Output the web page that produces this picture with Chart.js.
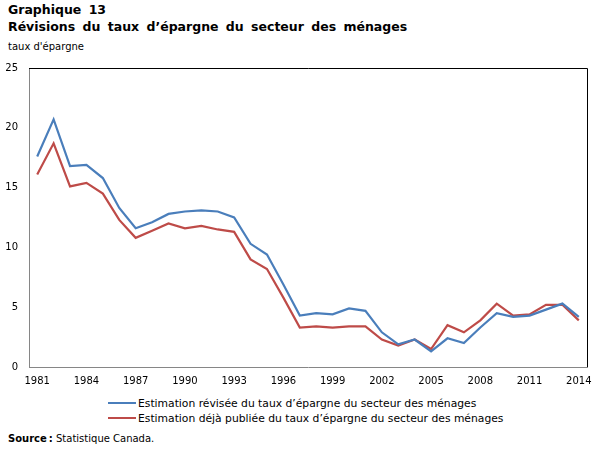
<!DOCTYPE html>
<html>
<head>
<meta charset="utf-8">
<script src="https://cdn.jsdelivr.net/npm/chart.js@4"></script>
<style>
  html, body { margin: 0; padding: 0; background: #fff; width: 605px; height: 454px; overflow: hidden; }
  body { position: relative; font-family: "DejaVu Sans", Verdana, sans-serif; color: #000; }
  .t { position: absolute; left: 8px; white-space: nowrap; }
  #t1 { top: 2px; font-weight: bold; font-size: 12.5px; word-spacing: 3px; }
  #t2 { top: 19px; font-weight: bold; font-size: 12.5px; word-spacing: 3px; }
  #t3 { top: 41px; font-size: 10px; }
  #src { top: 433px; font-size: 10px; }
  #wrap { position: absolute; left: 0; top: 51px; width: 605px; height: 344px; }
  #legend { position: absolute; left: 108px; top: 396px; font-size: 10.75px; }
  .li { height: 15px; line-height: 15px; white-space: nowrap; }
  .sw { display: inline-block; width: 28px; height: 2px; vertical-align: middle; margin-right: 2px; position: relative; top: -1px; }
</style>
</head>
<body>
<div class="t" id="t1">Graphique 13</div>
<div class="t" id="t2">Révisions du taux d’épargne du secteur des ménages</div>
<div class="t" id="t3">taux d'épargne</div>
<div id="wrap"><canvas id="c" width="605" height="344"></canvas></div>
<div id="legend"></div>
<div class="t" id="src"><b>Source&#8201;:</b> Statistique Canada.</div>
<script>
const years = [1981,1982,1983,1984,1985,1986,1987,1988,1989,1990,1991,1992,1993,1994,1995,1996,1997,1998,1999,2000,2001,2002,2003,2004,2005,2006,2007,2008,2009,2010,2011,2012,2013,2014];
const xTickLabels = ['1981','1984','1987','1990','1993','1996','1999','2002','2005','2008','2011','2014'];
const yTicks = [0,5,10,15,20,25];
const seriesNames = [
  'Estimation révisée du taux d’épargne du secteur des ménages',
  'Estimation déjà publiée du taux d’épargne du secteur des ménages'
];
const revised = [17.6,20.7,16.8,16.9,15.8,13.3,11.6,12.1,12.8,13.0,13.1,13.0,12.5,10.3,9.4,6.9,4.3,4.5,4.4,4.9,4.7,2.9,1.9,2.3,1.3,2.4,2.0,3.3,4.5,4.2,4.3,4.8,5.3,4.2];
const published = [16.1,18.7,15.1,15.4,14.5,12.3,10.8,11.4,12.0,11.6,11.8,11.5,11.3,9.0,8.2,5.8,3.3,3.4,3.3,3.4,3.4,2.3,1.8,2.3,1.5,3.5,2.9,3.9,5.3,4.3,4.4,5.2,5.2,3.9];
const colors = ['#4a7ebb', '#be4b48'];

const frame = {
  id: 'frame',
  afterDatasetsDraw(chart) {
    const a = chart.chartArea, ctx = chart.ctx;
    ctx.save();
    ctx.strokeStyle = '#000';
    ctx.lineWidth = 1;
    ctx.beginPath();
    ctx.moveTo(a.left, a.top + 0.5);
    ctx.lineTo(a.right + 0.5, a.top + 0.5);
    ctx.lineTo(a.right + 0.5, a.bottom);
    ctx.stroke();
    ctx.restore();
  }
};

const tickFont = { family: '"DejaVu Sans", Verdana, sans-serif', size: 10 };
new Chart(document.getElementById('c'), {
  type: 'line',
  data: {
    labels: years.map(String),
    datasets: [
      { label: seriesNames[0], data: revised, borderColor: colors[0], backgroundColor: colors[0], borderWidth: 2.2, pointRadius: 0, tension: 0 },
      { label: seriesNames[1], data: published, borderColor: colors[1], backgroundColor: colors[1], borderWidth: 2.2, pointRadius: 0, tension: 0 }
    ]
  },
  options: {
    responsive: false,
    animation: false,
    layout: { padding: { left: 0, right: 18, top: 2, bottom: 6 } },
    plugins: { legend: { display: false }, tooltip: { enabled: false } },
    scales: {
      x: {
        type: 'category',
        offset: true,
        grid: { display: false, drawTicks: false },
        border: { display: true, color: '#868686', width: 1 },
        ticks: {
          font: tickFont, color: '#000', padding: 8, autoSkip: false, maxRotation: 0,
          callback: function(v, i) { const l = this.getLabelForValue(v); return xTickLabels.includes(l) ? l : null; }
        },
        afterFit(s) { s.height = 22; }
      },
      y: {
        min: 0, max: 25,
        afterBuildTicks(s) { s.ticks = yTicks.map(v => ({ value: v })); },
        grid: { display: false, drawTicks: false },
        border: { display: true, color: '#868686', width: 1 },
        ticks: { font: tickFont, color: '#000', padding: 11 },
        afterFit(s) { s.width = 29; }
      }
    }
  },
  plugins: [frame]
});

const leg = document.getElementById('legend');
seriesNames.forEach((n, i) => {
  const d = document.createElement('div');
  d.className = 'li';
  const sw = document.createElement('span');
  sw.className = 'sw';
  sw.style.background = colors[i];
  d.appendChild(sw);
  d.appendChild(document.createTextNode(n));
  leg.appendChild(d);
});
</script>
</body>
</html>
